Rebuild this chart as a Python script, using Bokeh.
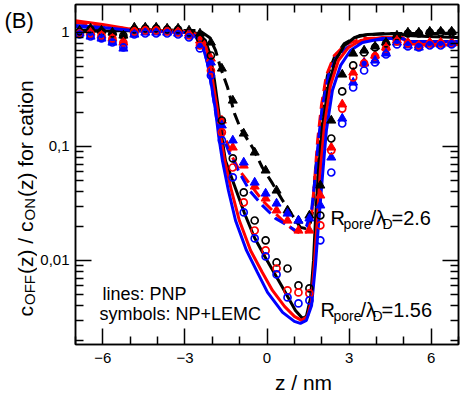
from bokeh.plotting import figure
from bokeh.layouts import row, column
from bokeh.models import Range1d, FixedTicker, LinearAxis, LogAxis, Label, CustomJSTickFormatter
from bokeh.embed import file_html
from bokeh.resources import INLINE

# ---------------- data ----------------
x_major = [-6, -3, 0, 3, 6]
x_minor = [-7, -5, -4, -2, -1, 1, 2, 4, 5, 7]
y_major = [0.01, 0.1, 1]
y_minor = [0.002, 0.003, 0.004, 0.005, 0.006, 0.007, 0.008, 0.009,
           0.02, 0.03, 0.04, 0.05, 0.06, 0.07, 0.08, 0.09,
           0.2, 0.3, 0.4, 0.5, 0.6, 0.7, 0.8, 0.9]

# PNP lines, R/lambda = 1.56 (solid)
bs_z = [-7.0, -4.92, -2.98, -2.54, -2.25, -2.07, -1.92, -1.77, -1.66, -1.52, -1.19, -0.82, -0.46, -0.06, 0.57, 1.04,
        1.30, 1.44, 1.59, 1.70, 1.77, 1.88, 2.03, 2.25, 2.50, 2.83, 3.20, 3.67, 4.77, 5.13, 5.87, 7.0]
bs_c = [1.02, 1.041, 1.02, 0.98, 0.851, 0.628, 0.379, 0.207, 0.125, 0.0754, 0.0455, 0.0258, 0.0159, 0.01062, 0.0058, 0.00364,
        0.0031, 0.00323, 0.00464, 0.01, 0.0224, 0.0616, 0.153, 0.343, 0.568, 0.769, 0.904, 0.96, 0.98, 0.941, 0.922, 0.904]
rs_z = [-7.0, -6.01, -4.92, -2.98, -2.54, -2.28, -2.10, -1.96, -1.81, -1.70, -1.55, -1.30, -1.01, -0.60, -0.17, 0.20, 0.64,
        1.00, 1.26, 1.48, 1.63, 1.74, 1.85, 1.95, 2.10, 2.32, 2.61, 2.98, 3.42, 4.22, 4.95, 5.17, 5.87, 7.0]
rs_c = [1.27, 1.175, 1.062, 1.02, 0.96, 0.817, 0.568, 0.343, 0.207, 0.125, 0.0754, 0.0411, 0.0224, 0.01224, 0.00785, 0.00546,
        0.00395, 0.00323, 0.00298, 0.00323, 0.00446, 0.01, 0.0248, 0.0616, 0.153, 0.343, 0.568, 0.739, 0.851, 0.904, 0.886,
        0.801, 0.769, 0.785]
us_z = [-7.0, -6.01, -4.92, -2.98, -2.65, -2.36, -2.18, -2.03, -1.88, -1.77, -1.63, -1.41, -1.15, -0.75, -0.35, 0.02, 0.57,
        1.00, 1.22, 1.44, 1.63, 1.77, 1.88, 2.03, 2.17, 2.39, 2.69, 3.05, 3.49, 4.22, 4.95, 5.17, 5.87, 7.0]
us_c = [1.15, 1.106, 1.041, 1.0, 0.941, 0.769, 0.546, 0.343, 0.207, 0.125, 0.0754, 0.0411, 0.0224, 0.01224, 0.00785, 0.00524,
        0.0035, 0.00292, 0.0028, 0.00298, 0.00403, 0.00904, 0.0203, 0.0557, 0.138, 0.31, 0.514, 0.695, 0.817, 0.886, 0.886,
        0.834, 0.834, 0.834]

# PNP lines, R/lambda = 2.6 (dashed)
bd_z = [-7.0, -4.92, -2.91, -2.47, -2.10, -1.88, -1.70, -1.44, -1.19, -0.97, -0.53, -0.17, 0.20, 0.57, 0.93, 1.22, 1.41,
        1.59, 1.66, 1.77, 1.92, 2.03, 2.21, 2.46, 2.83, 3.38, 4.33, 7.0]
bd_c = [1.041, 1.062, 1.041, 1.041, 0.904, 0.695, 0.493, 0.329, 0.195, 0.144, 0.098, 0.0654, 0.0474, 0.0336, 0.0248, 0.0195,
        0.0191, 0.0215, 0.0264, 0.0616, 0.12, 0.229, 0.42, 0.604, 0.801, 0.941, 0.98, 0.98]
rd_z = [-7.0, -4.92, -2.98, -2.54, -2.25, -2.07, -1.92, -1.77, -1.63, -1.26, -1.01, -0.53, -0.17, 0.31, 0.68, 1.04, 1.30,
        1.48, 1.63, 1.74, 1.85, 1.99, 2.17, 2.46, 2.87, 3.49, 4.95, 5.17, 7.0]
rd_c = [1.224, 1.062, 1.02, 0.96, 0.769, 0.514, 0.31, 0.187, 0.138, 0.0801, 0.0616, 0.0437, 0.0336, 0.0258, 0.0211, 0.018,
        0.0172, 0.018, 0.0248, 0.0503, 0.113, 0.229, 0.42, 0.628, 0.785, 0.886, 0.904, 0.817, 0.785]
ud_z = [-7.0, -4.92, -2.98, -2.61, -2.32, -2.14, -1.99, -1.85, -1.63, -1.37, -1.01, -0.64, -0.17, 0.31, 0.75, 1.04, 1.22,
        1.44, 1.63, 1.77, 1.88, 2.03, 2.25, 2.54, 2.94, 3.49, 4.95, 5.17, 7.0]
ud_c = [1.129, 1.041, 1.0, 0.941, 0.739, 0.493, 0.298, 0.18, 0.125, 0.0868, 0.0591, 0.0411, 0.0304, 0.0234, 0.0203, 0.0183,
        0.0183, 0.0199, 0.0275, 0.0557, 0.113, 0.229, 0.42, 0.604, 0.739, 0.851, 0.886, 0.834, 0.834]

# NP+LEMC symbols
z_sym = [-6.85, -6.45, -6.05, -5.65, -5.25, -4.85, -4.45, -4.05, -3.65, -3.25, -2.85, -2.45, -2.05, -1.65, -1.25, -0.85,
         -0.45, -0.05, 0.35, 0.75, 1.15, 1.55, 1.95, 2.35, 2.75, 3.15, 3.55, 3.95, 4.35, 4.75, 5.15, 5.55, 5.95, 6.35, 6.75]
tri_black = [1.041, 1.084, 1.041, 1.0, 0.941, 1.106, 1.106, 1.106, 1.084, 1.084, 1.041, 0.98, 0.817, 0.483, 0.253, 0.13,
             0.0886, 0.0616, 0.0411, 0.0275, 0.0224, 0.0248, 0.0455, 0.169, 0.428, 0.654, 0.695, 0.754, 0.817, 0.941, 1.0,
             1.0, 1.02, 1.02, 1.02]
tri_red = [1.0, 1.0, 0.941, 0.886, 0.817, 1.041, 1.062, 1.041, 1.041, 1.02, 0.98, 0.851, 0.591, 0.169, 0.098, 0.0681,
           0.0446, 0.035, 0.0275, 0.0224, 0.0183, 0.0183, 0.0372, 0.098, 0.234, 0.446, 0.546, 0.628, 0.739, 0.851, 0.817,
           0.769, 0.817, 0.817, 0.817]
tri_blue = [0.98, 0.922, 0.886, 0.817, 0.724, 0.96, 1.0, 1.0, 1.0, 0.98, 0.941, 0.769, 0.546, 0.153, 0.113, 0.0724,
            0.0483, 0.0387, 0.0316, 0.0258, 0.0224, 0.0234, 0.0304, 0.0801, 0.176, 0.364, 0.535, 0.568, 0.654, 0.817,
            0.769, 0.739, 0.785, 0.785, 0.801]
circ_black = [1.02, 1.062, 1.02, 0.98, 0.941, 1.062, 1.084, 1.084, 1.062, 1.062, 1.0, 0.886, 0.628, 0.169, 0.0785, 0.0395,
              0.0224, 0.015, 0.0096, 0.0085, 0.00604, 0.00568, 0.0248, 0.1175, 0.304, 0.514, 0.668, 0.739, 0.801, 0.922,
              0.98, 0.98, 1.0, 1.0, 1.0]
circ_red = [0.98, 0.98, 0.941, 0.886, 0.817, 1.02, 1.041, 1.041, 1.02, 1.0, 0.941, 0.769, 0.464, 0.133, 0.0654, 0.0323,
            0.0183, 0.01224, 0.0085, 0.00546, 0.00524, 0.00514, 0.0203, 0.0923, 0.215, 0.403, 0.535, 0.616, 0.724, 0.834,
            0.801, 0.769, 0.801, 0.801, 0.801]
circ_blue = [0.96, 0.922, 0.886, 0.817, 0.739, 0.96, 0.98, 0.98, 0.98, 0.96, 0.904, 0.724, 0.42, 0.113, 0.0535, 0.0264,
             0.0156, 0.01084, 0.00754, 0.00474, 0.0042, 0.00446, 0.015, 0.0591, 0.159, 0.329, 0.464, 0.546, 0.641, 0.785,
             0.754, 0.739, 0.769, 0.769, 0.785]

# ---------------- layout geometry (page pixels) ----------------
FONT = "Liberation Sans"
W, H = 460, 393
WL = 37                 # left strip holding the y title and panel letter
FL, FT, FR, FB = 73, 4, 456, 344   # frame edges
PH = 370                # height of main plot (frame + tick labels)
BASE = 0.3              # measured offset of Bokeh's alphabetic anchor, in em

p = figure(frame_width=FR - FL, frame_height=FB - FT, y_axis_type="log",
           x_range=Range1d(-7, 7), y_range=Range1d(0.00183, 1.76),
           output_backend="svg", toolbar_location=None,
           min_border_left=FL - WL, min_border_right=W - FR, min_border_top=FT, min_border_bottom=PH - FB)
p.xgrid.visible = False
p.ygrid.visible = False
p.outline_line_color = "black"
p.outline_line_width = 1.5
p.background_fill_color = "white"
p.border_fill_color = "white"

xt = FixedTicker(ticks=x_major, minor_ticks=x_minor)
yt = FixedTicker(ticks=y_major, minor_ticks=y_minor)


def style_axis(ax, labels):
    ax.axis_line_color = "black"
    ax.axis_line_width = 1.5
    ax.major_tick_in = 16
    ax.major_tick_out = 0
    ax.minor_tick_in = 8
    ax.minor_tick_out = 0
    ax.major_tick_line_width = 1.5
    ax.minor_tick_line_width = 1.5
    ax.major_tick_line_color = "black"
    ax.minor_tick_line_color = "black"
    if labels:
        ax.major_label_text_font = FONT
        ax.major_label_text_font_size = "15px"
        ax.major_label_text_color = "black"
    else:
        ax.major_label_text_font_size = "1px"
        ax.major_label_text_color = None
        ax.major_label_standoff = 0


p.xaxis.ticker = xt
p.yaxis.ticker = yt
p.yaxis.formatter = CustomJSTickFormatter(code="return tick.toString().replace('.', ',');")
style_axis(p.xaxis[0], True)
style_axis(p.yaxis[0], True)
p.xaxis.major_label_standoff = 8
p.yaxis.major_label_standoff = 6
top_ax = LinearAxis(ticker=xt)
style_axis(top_ax, False)
p.add_layout(top_ax, "above")
right_ax = LogAxis(ticker=yt)
style_axis(right_ax, False)
p.add_layout(right_ax, "right")

colors = ["black", "red", "blue"]
solid = [(bs_z, bs_c), (rs_z, rs_c), (us_z, us_c)]
dashed = [(bd_z, bd_c), (rd_z, rd_c), (ud_z, ud_c)]
for (zz, cc), col in zip(dashed, colors):
    p.line(zz, cc, line_color=col, line_width=3, line_dash="12 6")
for (zz, cc), col in zip(solid, colors):
    p.line(zz, cc, line_color=col, line_width=3)
for vals, col in zip([tri_black, tri_red, tri_blue], colors):
    p.scatter(z_sym, vals, marker="triangle", size=9, fill_color=col, line_color=col)
for vals, col in zip([circ_black, circ_red, circ_blue], colors):
    p.scatter(z_sym, vals, marker="circle", size=7, fill_color=None, line_color=col, line_width=1.7)


def add_txt(fig, ox, oy_bottom, s, px, py, size, rotated=False, align="left"):
    """place text whose baseline passes through page pixel (px, py)"""
    if rotated:
        px = px - BASE * size
        ang = 1.5707963
    else:
        py = py - BASE * size
        ang = 0.0
    fig.add_layout(Label(x=px - ox, y=oy_bottom - py, x_units="screen", y_units="screen", text=s,
                         text_font=FONT, text_font_size=f"{size}px", text_color="black",
                         angle=ang, text_align=align, text_baseline="alphabetic"))


def txt(s, px, py, size, align="left"):
    add_txt(p, FL, FB, s, px, py, size, False, align)


# notes inside the frame
txt("lines: PNP", 100, 299, 18)
txt("symbols: NP+LEMC", 97, 319, 18)
for x0, yb, val in [(328, 223, "=2.6"), (318, 315, "=1.56")]:
    txt("R", x0, yb, 20)
    txt("pore", x0 + 13, yb + 5, 14)
    txt("/\u03bb", x0 + 40, yb, 20)
    txt("D", x0 + 52, yb + 5, 14)
    txt(val, x0 + 61, yb, 20)


def blank(width, height):
    f = figure(width=width, height=height, x_axis_type=None, y_axis_type=None,
               output_backend="svg", toolbar_location=None, min_border=0,
               x_range=Range1d(0, 1), y_range=Range1d(0, 1))
    f.outline_line_color = None
    f.xgrid.visible = False
    f.ygrid.visible = False
    f.background_fill_color = "white"
    f.border_fill_color = "white"
    return f


# left strip: panel letter + rotated y title
left = blank(WL, H)
add_txt(left, 0, H, "(B)", 4, 27, 22)
for s, size, py, sub in [("c", 21, 316, False), ("OFF", 15, 304.5, True), ("(z) / c", 21, 273.5, False),
                         ("ON", 15, 220, True), ("(z) for cation", 21, 196.5, False)]:
    add_txt(left, 0, H, s, 33.6 if sub else 31.0, py, size, rotated=True)

# bottom strip: x title
bottom = blank(W - WL, H - PH)
add_txt(bottom, WL, H, "z / nm", 265, 388, 21, align="center")

layout = row(left, column(p, bottom))
open("out.html", "w").write(file_html(layout, INLINE))
